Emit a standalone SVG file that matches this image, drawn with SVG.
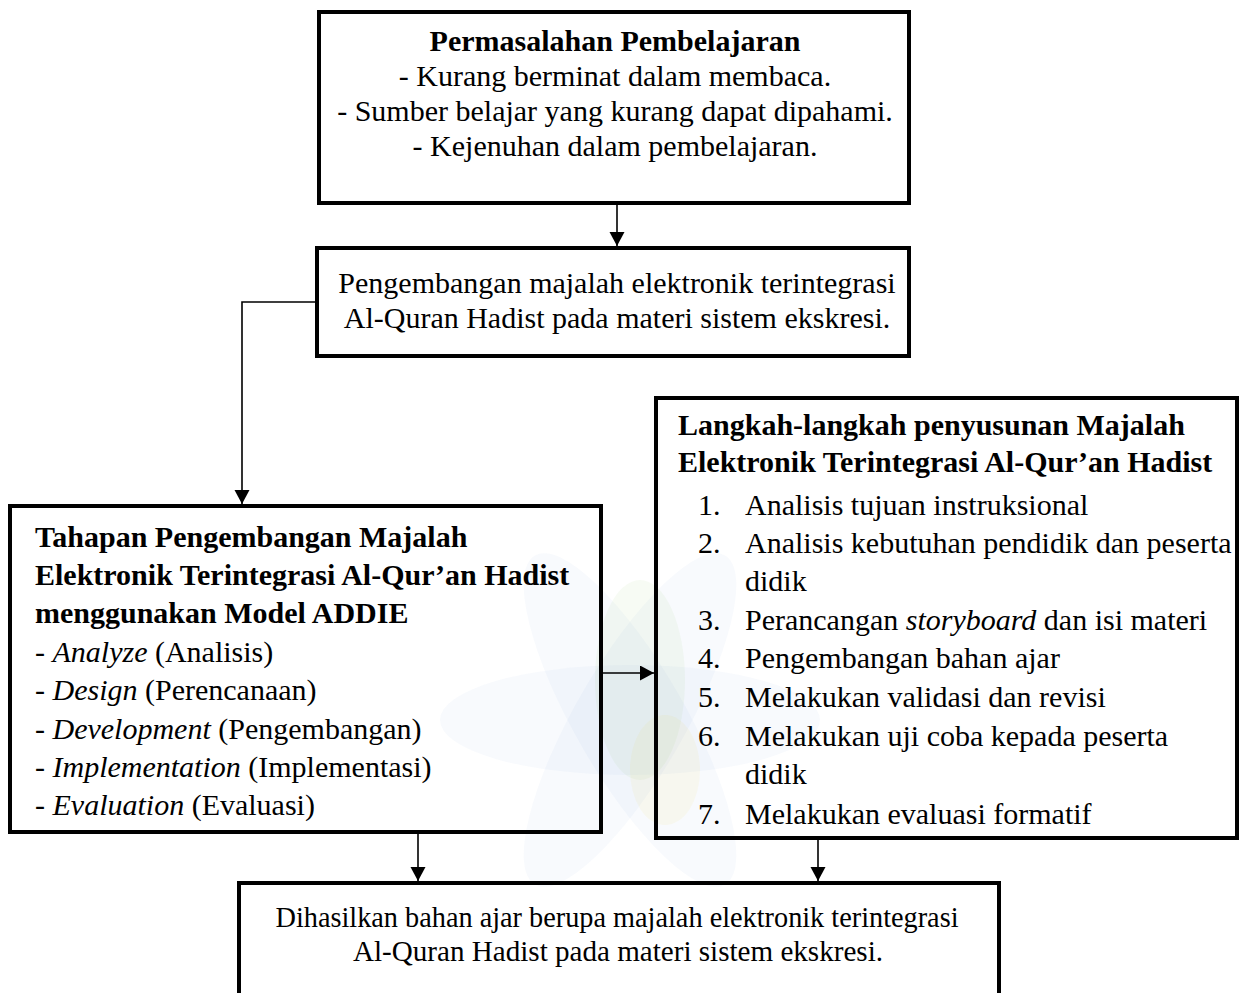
<svg xmlns="http://www.w3.org/2000/svg" width="1240" height="993" viewBox="0 0 1240 993">
<style>
.box{fill:none;stroke:#000;stroke-width:4}
.t{font-family:"Liberation Serif","Times New Roman",serif;font-size:30px;fill:#000}
.b{font-weight:bold}
.c{text-anchor:middle}
.i{font-style:italic}
.ln{fill:none;stroke:#000;stroke-width:1.6}
.wb{fill:#3a7fc1;opacity:0.035}
.wg{fill:#7dbb42;opacity:0.06}
.wy{fill:#f0c419;opacity:0.06}
</style>
<defs>
<marker id="ah" markerWidth="16" markerHeight="16" refX="14" refY="7.5" orient="auto" markerUnits="userSpaceOnUse">
<path d="M0,0 L14,7.5 L0,15 Z" fill="#000"/>
</marker>
</defs>
<rect width="1240" height="993" fill="#fff"/>
<g id="watermark">
<ellipse class="wb" cx="630" cy="720" rx="55" ry="190" transform="rotate(30 630 720)"/>
<ellipse class="wb" cx="630" cy="720" rx="55" ry="190" transform="rotate(-30 630 720)"/>
<ellipse class="wb" cx="630" cy="720" rx="55" ry="190" transform="rotate(90 630 720)"/>
<ellipse class="wg" cx="640" cy="680" rx="45" ry="100"/>
<ellipse class="wy" cx="665" cy="770" rx="35" ry="55"/>
</g>
<g id="connectors">
<line class="ln" x1="617" y1="205" x2="617" y2="246" marker-end="url(#ah)"/>
<polyline class="ln" points="315,302 242,302 242,504" marker-end="url(#ah)"/>
<line class="ln" x1="603" y1="673" x2="654" y2="673" marker-end="url(#ah)"/>
<line class="ln" x1="418" y1="834" x2="418" y2="881" marker-end="url(#ah)"/>
<line class="ln" x1="818" y1="840" x2="818" y2="881" marker-end="url(#ah)"/>
</g>
<g id="problem">
<rect class="box" x="319" y="12" width="590" height="191"/>
<text class="t b c" x="615" y="51">Permasalahan Pembelajaran</text>
<text class="t c" x="615" y="86">- Kurang berminat dalam membaca.</text>
<text class="t c" x="615" y="121">- Sumber belajar yang kurang dapat dipahami.</text>
<text class="t c" x="615" y="156">- Kejenuhan dalam pembelajaran.</text>
</g>
<g id="development">
<rect class="box" x="317" y="248" width="592" height="108"/>
<text class="t c" x="617" y="293">Pengembangan majalah elektronik terintegrasi</text>
<text class="t c" x="617" y="328">Al-Quran Hadist pada materi sistem ekskresi.</text>
</g>
<g id="addie">
<rect class="box" x="10" y="506" width="591" height="326"/>
<text class="t b" x="35" y="547">Tahapan Pengembangan Majalah</text>
<text class="t b" x="35" y="585">Elektronik Terintegrasi Al-Qur’an Hadist</text>
<text class="t b" x="35" y="623">menggunakan Model ADDIE</text>
<text class="t" x="35" y="662">- <tspan class="i">Analyze</tspan> (Analisis)</text>
<text class="t" x="35" y="700">- <tspan class="i">Design</tspan> (Perencanaan)</text>
<text class="t" x="35" y="739">- <tspan class="i">Development</tspan> (Pengembangan)</text>
<text class="t" x="35" y="777">- <tspan class="i">Implementation</tspan> (Implementasi)</text>
<text class="t" x="35" y="815">- <tspan class="i">Evaluation</tspan> (Evaluasi)</text>
</g>
<g id="steps">
<rect class="box" x="656" y="398" width="581" height="440"/>
<text class="t b" x="678" y="435">Langkah-langkah penyusunan Majalah</text>
<text class="t b" x="678" y="472">Elektronik Terintegrasi Al-Qur’an Hadist</text>
<text class="t" x="698" y="515">1.</text><text class="t" x="745" y="515">Analisis tujuan instruksional</text>
<text class="t" x="698" y="553">2.</text><text class="t" x="745" y="553">Analisis kebutuhan pendidik dan peserta</text>
<text class="t" x="745" y="591">didik</text>
<text class="t" x="698" y="630">3.</text><text class="t" x="745" y="630">Perancangan <tspan class="i">storyboard</tspan> dan isi materi</text>
<text class="t" x="698" y="668">4.</text><text class="t" x="745" y="668">Pengembangan bahan ajar</text>
<text class="t" x="698" y="707">5.</text><text class="t" x="745" y="707">Melakukan validasi dan revisi</text>
<text class="t" x="698" y="746">6.</text><text class="t" x="745" y="746">Melakukan uji coba kepada peserta</text>
<text class="t" x="745" y="784">didik</text>
<text class="t" x="698" y="824">7.</text><text class="t" x="745" y="824">Melakukan evaluasi formatif</text>
</g>
<g id="result">
<rect class="box" x="239" y="883" width="760" height="140"/>
<text class="t c" x="617" y="927" textLength="683" lengthAdjust="spacingAndGlyphs">Dihasilkan bahan ajar berupa majalah elektronik terintegrasi</text>
<text class="t c" x="618" y="961" textLength="530" lengthAdjust="spacingAndGlyphs">Al-Quran Hadist pada materi sistem ekskresi.</text>
</g>
</svg>
